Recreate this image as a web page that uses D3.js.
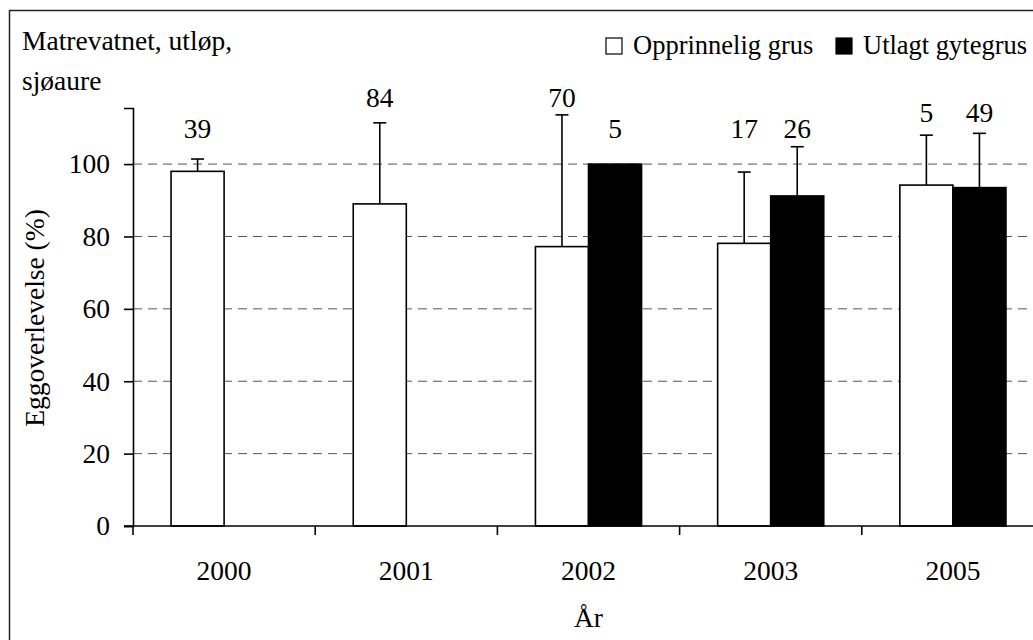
<!DOCTYPE html>
<html>
<head>
<meta charset="utf-8">
<script src="https://cdn.jsdelivr.net/npm/d3@7"></script>
<style>
  html, body { margin: 0; padding: 0; background: #fff; }
  svg { display: block; }
  text { font-family: "Liberation Serif", "Times New Roman", serif; fill: #000; }
</style>
</head>
<body>
<svg id="chart" width="1033" height="640"></svg>
<script>
// Egg survival per year, original gravel vs. added spawning gravel
const years = ["2000", "2001", "2002", "2003", "2005"];
const opprinnelig = [98, 89, 77.2, 78.1, 94.2];
const opprinneligErr = [3.4, 22.4, 36.4, 19.7, 13.8];
const utlagt = [null, null, 100, 91.2, 93.5];
const utlagtErr = [null, null, 0, 13.6, 15];
const nOpprinnelig = [39, 84, 70, 17, 5];
const nUtlagt = [null, null, 5, 26, 49];
const seriesNames = ["Opprinnelig grus", "Utlagt gytegrus"];
const yTicks = [0, 20, 40, 60, 80, 100];

// Where the sample-size labels sit, in axis units
const labelLevelO = [107.2, 115.7, 115.7, 107.2, 111.6];
const labelLevelU = [null, null, 107.2, 107.2, 111.6];

const svg = d3.select("#chart");
const FONT = 27.5;
const LEG_FONT = 26.5;

// outer frame
svg.append("rect")
  .attr("x", 9.5).attr("y", 10.5)
  .attr("width", 1060).attr("height", 660)
  .attr("fill", "none").attr("stroke", "#222").attr("stroke-width", 1.5);

const x = d3.scaleBand().domain(years).range([133, 1044]).paddingInner(0).paddingOuter(0);
const xIn = d3.scaleBand().domain(["o", "u"]).range([0, x.bandwidth()]).paddingInner(0).paddingOuter(0.717);
const y = d3.scaleLinear().domain([0, 115.5]).range([526, 108]);

// dashed gridlines
svg.append("g").selectAll("line")
  .data(yTicks.filter(d => d > 0))
  .join("line")
  .attr("x1", 133).attr("x2", 1044)
  .attr("y1", d => y(d)).attr("y2", d => y(d))
  .attr("stroke", "#555").attr("stroke-width", 1)
  .attr("stroke-dasharray", "9,6");

const rows = years.map((yr, i) => ({
  yr, i,
  bars: [
    { key: "o", v: opprinnelig[i], e: opprinneligErr[i], n: nOpprinnelig[i], lv: labelLevelO[i], fill: "#fff" },
    { key: "u", v: utlagt[i], e: utlagtErr[i], n: nUtlagt[i], lv: labelLevelU[i], fill: "#000" }
  ].filter(b => b.v != null)
}));

const groups = svg.append("g").selectAll("g")
  .data(rows).join("g")
  .attr("transform", d => `translate(${x(d.yr)},0)`);

// error bars (drawn first so bars cover their lower half)
groups.selectAll("g.err")
  .data(d => d.bars.filter(b => b.e > 0))
  .join("g").attr("class", "err")
  .each(function(b) {
    const g = d3.select(this);
    const cx = xIn(b.key) + xIn.bandwidth() / 2;
    g.append("line").attr("x1", cx).attr("x2", cx)
      .attr("y1", y(b.v)).attr("y2", y(b.v + b.e))
      .attr("stroke", "#000").attr("stroke-width", 1.6);
    g.append("line").attr("x1", cx - 6.5).attr("x2", cx + 6.5)
      .attr("y1", y(b.v + b.e)).attr("y2", y(b.v + b.e))
      .attr("stroke", "#000").attr("stroke-width", 1.6);
  });

// bars
groups.selectAll("rect")
  .data(d => d.bars)
  .join("rect")
  .attr("x", b => xIn(b.key))
  .attr("width", xIn.bandwidth())
  .attr("y", b => y(b.v))
  .attr("height", b => y(0) - y(b.v))
  .attr("fill", b => b.fill)
  .attr("stroke", "#000").attr("stroke-width", 1.6);

// sample-size labels
groups.selectAll("text.n")
  .data(d => d.bars)
  .join("text").attr("class", "n")
  .attr("x", b => xIn(b.key) + xIn.bandwidth() / 2)
  .attr("y", b => y(b.lv))
  .attr("text-anchor", "middle")
  .attr("font-size", FONT)
  .text(b => b.n);

// y axis
const yAxis = d3.axisLeft(y).tickValues(yTicks).tickSize(9).tickPadding(14);
const gy = svg.append("g").attr("transform", "translate(133,0)").call(yAxis);
gy.select(".domain").attr("stroke", "#000").attr("stroke-width", 1.6);
gy.selectAll(".tick line").attr("stroke", "#000").attr("stroke-width", 1.6);
gy.selectAll(".tick text").attr("font-size", FONT)
  .attr("font-family", "Liberation Serif, Times New Roman, serif").attr("fill", "#000");

// x axis: baseline, boundary ticks, centred year labels
svg.append("line").attr("x1", 124).attr("x2", 1044)
  .attr("y1", y(0)).attr("y2", y(0))
  .attr("stroke", "#000").attr("stroke-width", 1.6);
svg.append("g").selectAll("line")
  .data(years.concat(["end"]))
  .join("line")
  .attr("x1", (d, i) => 133 + i * x.step()).attr("x2", (d, i) => 133 + i * x.step())
  .attr("y1", y(0)).attr("y2", y(0) + 9)
  .attr("stroke", "#000").attr("stroke-width", 1.6);
svg.append("g").selectAll("text")
  .data(years).join("text")
  .attr("x", d => x(d) + x.bandwidth() / 2)
  .attr("y", 580)
  .attr("text-anchor", "middle")
  .attr("font-size", FONT)
  .text(d => d);

// axis titles
svg.append("text")
  .attr("x", (133 + 1044) / 2).attr("y", 627)
  .attr("text-anchor", "middle").attr("font-size", FONT)
  .text("År");
svg.append("text")
  .attr("transform", "translate(44,318) rotate(-90)")
  .attr("text-anchor", "middle").attr("font-size", FONT)
  .text("Eggoverlevelse (%)");

// panel title
const title = svg.append("text").attr("x", 22).attr("y", 50).attr("font-size", FONT);
title.append("tspan").attr("x", 22).text("Matrevatnet, utløp,");
title.append("tspan").attr("x", 22).attr("dy", 40).text("sjøaure");

// legend
const legend = svg.append("g");
const legX = [606, 836];
const legFill = ["#fff", "#000"];
seriesNames.forEach((name, i) => {
  legend.append("rect")
    .attr("x", legX[i]).attr("y", 38)
    .attr("width", 16).attr("height", 16)
    .attr("fill", legFill[i]).attr("stroke", "#000").attr("stroke-width", 1.2);
  legend.append("text")
    .attr("x", legX[i] + 27).attr("y", 54)
    .attr("font-size", LEG_FONT)
    .text(name);
});
</script>
</body>
</html>
